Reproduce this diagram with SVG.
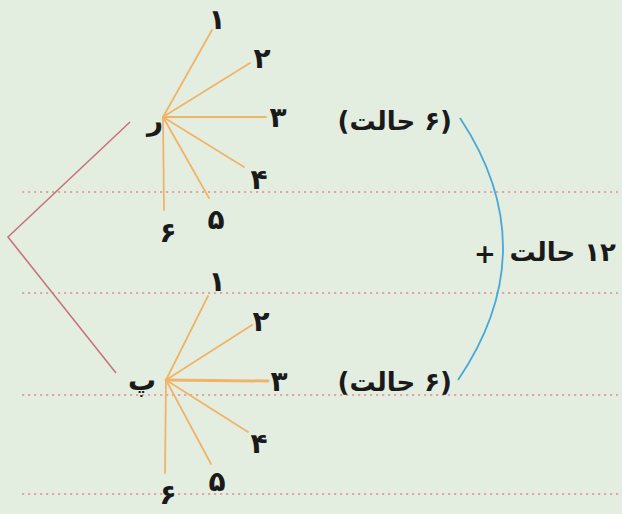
<svg xmlns="http://www.w3.org/2000/svg" width="622" height="514" viewBox="0 0 622 514">
<style>
.bg{fill:#e3eee1}
.dot{stroke:#e2a6a6;stroke-width:2.2;stroke-dasharray:2.2 3.8;fill:none}
.fan{stroke:#f0b468;stroke-width:1.8;fill:none;stroke-linecap:round}
.red{stroke:#c8747c;stroke-width:1.6;fill:none}
.arc{stroke:#48a8d8;stroke-width:1.8;fill:none}
.num{font-family:"DejaVu Sans",sans-serif;font-weight:bold;font-size:28px;fill:#1a1a1a;text-anchor:middle;dominant-baseline:central}
.lbl{font-family:"DejaVu Sans",sans-serif;font-weight:bold;font-size:26px;fill:#1a1a1a;dominant-baseline:central}
</style>
<rect class="bg" x="0" y="0" width="622" height="514"/>
<g id="guides">
<line class="dot" x1="22" y1="192" x2="622" y2="192"/>
<line class="dot" x1="22" y1="293" x2="622" y2="293"/>
<line class="dot" x1="22" y1="395" x2="622" y2="395"/>
<line class="dot" x1="22" y1="494" x2="622" y2="494"/>
</g>
<g id="connectors">
<polyline class="red" points="130,122 8,237 116,373"/>
<line class="fan" x1="163" y1="117" x2="212" y2="30"/>
<line class="fan" x1="163" y1="117" x2="250" y2="63"/>
<line class="fan" x1="163" y1="117" x2="266" y2="117"/>
<line class="fan" x1="163" y1="117" x2="244" y2="167"/>
<line class="fan" x1="163" y1="117" x2="209" y2="198"/>
<line class="fan" x1="163" y1="117" x2="164" y2="210"/>
<line class="fan" x1="166" y1="380" x2="208" y2="296"/>
<line class="fan" x1="166" y1="380" x2="252" y2="325"/>
<line class="fan" x1="166" y1="380" x2="268" y2="381" style="stroke-width:3"/>
<line class="fan" x1="166" y1="380" x2="248" y2="432"/>
<line class="fan" x1="166" y1="380" x2="211" y2="464"/>
<line class="fan" x1="166" y1="380" x2="165" y2="473"/>
<path class="arc" d="M460,118 Q547,249 458,380"/>
</g>
<g id="node-r">
<text class="num" x="155" y="120">ر</text>
</g>
<g id="top-outcomes">
<text class="num" x="217" y="19">۱</text>
<text class="num" x="262" y="58">۲</text>
<text class="num" x="278" y="117">۳</text>
<text class="num" x="259" y="179">۴</text>
<text class="num" x="216" y="219">۵</text>
<text class="num" x="168" y="232">۶</text>
</g>
<g id="node-p">
<text class="num" x="142" y="380">پ</text>
</g>
<g id="bottom-outcomes">
<text class="num" x="217" y="281">۱</text>
<text class="num" x="261" y="321">۲</text>
<text class="num" x="279" y="381">۳</text>
<text class="num" x="259" y="443">۴</text>
<text class="num" x="217" y="481">۵</text>
<text class="num" x="168" y="494">۶</text>
</g>
<g id="label-top">
<text class="lbl" x="452" y="121" direction="rtl" style="text-anchor:start">(۶ حالت)</text>
</g>
<g id="label-bottom">
<text class="lbl" x="452" y="382" direction="rtl" style="text-anchor:start">(۶ حالت)</text>
</g>
<g id="label-total">
<text class="lbl" x="616" y="252" direction="rtl" style="text-anchor:start">۱۲ حالت</text>
<text class="lbl" x="485" y="254" style="text-anchor:middle">+</text>
</g>
</svg>
